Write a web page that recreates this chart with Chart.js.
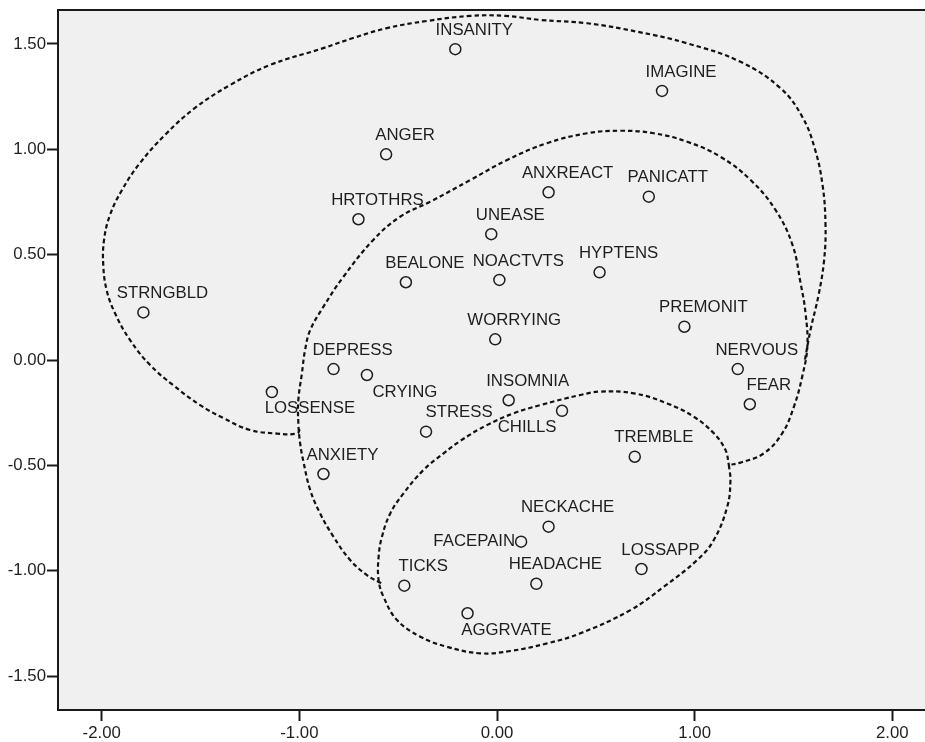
<!DOCTYPE html>
<html>
<head>
<meta charset="utf-8">
<script src="https://cdn.jsdelivr.net/npm/chart.js@4.4.1/dist/chart.umd.min.js"></script>
<style>
  html, body { margin: 0; padding: 0; background: #ffffff; overflow: hidden; }
  canvas { display: block; }
</style>
</head>
<body>
<canvas id="chart" width="943" height="742"></canvas>
<script>
// Symptom configuration: dimension 1 (x) and dimension 2 (y)
const symptoms = ['INSANITY','IMAGINE','ANGER','ANXREACT','PANICATT','HRTOTHRS','UNEASE','HYPTENS',
  'BEALONE','NOACTVTS','STRNGBLD','PREMONIT','WORRYING','DEPRESS','NERVOUS','CRYING','LOSSENSE',
  'INSOMNIA','CHILLS','STRESS','FEAR','TREMBLE','ANXIETY','NECKACHE','FACEPAIN','LOSSAPP',
  'HEADACHE','TICKS','AGGRVATE'];
const dim1 = [-0.211, 0.835, -0.561, 0.261, 0.768, -0.701, -0.029, 0.519,
  -0.461, 0.012, -1.789, 0.948, -0.009, -0.827, 1.218, -0.658, -1.139,
  0.059, 0.329, -0.359, 1.279, 0.697, -0.878, 0.261, 0.122, 0.731,
  0.199, -0.469, -0.149];
const dim2 = [1.475, 1.277, 0.976, 0.796, 0.775, 0.668, 0.597, 0.416,
  0.369, 0.380, 0.226, 0.158, 0.098, -0.043, -0.043, -0.071, -0.152,
  -0.191, -0.241, -0.340, -0.210, -0.459, -0.541, -0.791, -0.862, -0.992,
  -1.062, -1.071, -1.202];

// Axis ticks
const xTickValues = [-2, -1, 0, 1, 2];
const xTickLabels = ['-2.00', '-1.00', '0.00', '1.00', '2.00'];
const yTickValues = [-1.5, -1, -0.5, 0, 0.5, 1, 1.5];
const yTickLabels = ['-1.50', '-1.00', '-0.50', '0.00', '0.50', '1.00', '1.50'];

// Hand-drawn cluster outlines, in configuration units
const outerX = [-0.998, -1.011, -1.114, -1.249, -1.386, -1.502, -1.639, -1.755, -1.857, -1.933,
  -1.975, -1.992, -1.988, -1.958, -1.897, -1.806, -1.680, -1.528, -1.350, -1.148,
  -0.879, -0.728, -0.557, -0.354, -0.135, 0.042, 0.219, 0.456, 0.709, 0.962,
  1.232, 1.434, 1.544, 1.607, 1.647, 1.662, 1.655, 1.627, 1.586, 1.556];
const outerY = [-0.328, -0.349, -0.349, -0.332, -0.275, -0.214, -0.119, -0.024, 0.095, 0.223,
  0.332, 0.451, 0.570, 0.688, 0.807, 0.935, 1.068, 1.196, 1.305, 1.400,
  1.480, 1.528, 1.575, 1.609, 1.633, 1.633, 1.614, 1.598, 1.558, 1.503,
  1.415, 1.290, 1.155, 1.006, 0.831, 0.641, 0.475, 0.309, 0.142, -0.009];

const middleX = [-0.586, -0.658, -0.743, -0.827, -0.895, -0.945, -0.979, -0.996, -1.005, -1.005,
  -0.987, -0.971, -0.945, -0.878, -0.777, -0.626, -0.490, -0.338, -0.135, 0.051,
  0.253, 0.456, 0.624, 0.793, 0.962, 1.131, 1.283, 1.409, 1.495, 1.536,
  1.561, 1.570, 1.544, 1.502, 1.443, 1.350, 1.232, 1.173];
const middleY = [-1.059, -1.021, -0.949, -0.839, -0.728, -0.617, -0.484, -0.395, -0.300, -0.190,
  -0.063, 0.047, 0.142, 0.253, 0.395, 0.570, 0.680, 0.751, 0.854, 0.949,
  1.029, 1.076, 1.088, 1.076, 1.036, 0.964, 0.854, 0.712, 0.546, 0.364,
  0.222, 0.063, -0.079, -0.222, -0.348, -0.443, -0.487, -0.498];

const lowerX = [1.173, 1.181, 1.165, 1.097, 1.013, 0.844, 0.675, 0.422, 0.253, 0.067,
  -0.085, -0.253, -0.388, -0.506, -0.574, -0.599, -0.599, -0.582, -0.540, -0.473,
  -0.372, -0.270, -0.186, -0.051, 0.084, 0.219, 0.422, 0.523, 0.692, 0.861,
  0.995, 1.097, 1.156, 1.173];
const lowerY = [-0.498, -0.574, -0.696, -0.854, -0.949, -1.076, -1.187, -1.297, -1.345, -1.381,
  -1.392, -1.361, -1.313, -1.234, -1.124, -1.044, -0.934, -0.839, -0.728, -0.633,
  -0.522, -0.443, -0.384, -0.309, -0.253, -0.214, -0.166, -0.150, -0.158, -0.206,
  -0.269, -0.348, -0.427, -0.498];

// Label placement (pixel offset of the label centre from its marker)
const defaultPlacement = { dx: 19, dy: -19, align: 'center' };
const placement = {
  LOSSENSE: { dx: 38, dy: 16, align: 'center' },
  CRYING:   { dx: 38, dy: 17, align: 'center' },
  STRESS:   { dx: 33, dy: -19, align: 'center' },
  CHILLS:   { dx: -35, dy: 17, align: 'center' },
  AGGRVATE: { dx: 39, dy: 17, align: 'center' },
  FACEPAIN: { dx: -6, dy: 0, align: 'right' }
};

const FONT = '"Liberation Sans", Arial, Helvetica, sans-serif';
const INK = '#1e1e1e';

const zip = (xs, ys) => xs.map((x, i) => ({ x, y: ys[i] }));
const outline = (xs, ys) => ({
  data: zip(xs, ys),
  showLine: true,
  borderColor: '#111111',
  borderWidth: 2.2,
  borderDash: [4.5, 3],
  tension: 0.4,
  pointRadius: 0,
  pointHoverRadius: 0,
  fill: false,
  order: 2
});

const plotFrame = {
  id: 'plotFrame',
  beforeDraw(chart) {
    const { ctx, chartArea: a } = chart;
    ctx.save();
    ctx.fillStyle = '#f0f0f0';
    ctx.fillRect(a.left, a.top, a.right - a.left, a.bottom - a.top);
    ctx.restore();
  },
  afterDraw(chart) {
    const { ctx, chartArea: a } = chart;
    ctx.save();
    ctx.strokeStyle = '#1a1a1a';
    ctx.lineWidth = 2;
    ctx.beginPath();
    ctx.moveTo(a.left - 1, a.top);
    ctx.lineTo(a.right + 2, a.top);
    ctx.stroke();
    ctx.restore();
  }
};

const pointLabels = {
  id: 'pointLabels',
  afterDatasetsDraw(chart) {
    const { ctx } = chart;
    const meta = chart.getDatasetMeta(3);
    ctx.save();
    ctx.font = '16.8px ' + FONT;
    ctx.fillStyle = INK;
    ctx.textBaseline = 'middle';
    meta.data.forEach((el, i) => {
      const name = symptoms[i];
      const p = placement[name] || defaultPlacement;
      ctx.textAlign = p.align;
      ctx.fillText(name, el.x + p.dx, el.y + p.dy);
    });
    ctx.restore();
  }
};

new Chart(document.getElementById('chart'), {
  type: 'scatter',
  data: {
    datasets: [
      outline(outerX, outerY),
      outline(middleX, middleY),
      outline(lowerX, lowerY),
      {
        data: zip(dim1, dim2),
        pointStyle: 'circle',
        pointRadius: 5.5,
        pointHoverRadius: 5.5,
        borderWidth: 1.5,
        borderColor: '#1e1e1e',
        backgroundColor: 'rgba(0,0,0,0)',
        order: 1
      }
    ]
  },
  options: {
    responsive: false,
    animation: false,
    events: [],
    layout: { padding: { top: 10, right: 0, bottom: 0, left: 0 } },
    plugins: {
      legend: { display: false },
      tooltip: { enabled: false },
      title: { display: false }
    },
    scales: {
      x: {
        type: 'linear',
        min: -2.221,
        max: 2.221,
        afterBuildTicks: s => { s.ticks = xTickValues.map(v => ({ value: v })); },
        afterFit: s => { s.height = 32; s.paddingLeft = 0; s.paddingRight = 0; },
        grid: { drawOnChartArea: false, drawTicks: true, tickLength: 11, tickWidth: 2, tickColor: '#1a1a1a' },
        border: { display: true, color: '#1a1a1a', width: 2 },
        ticks: {
          padding: 2,
          maxRotation: 0,
          color: INK,
          font: { family: FONT, size: 16.8 },
          callback: (v) => xTickLabels[xTickValues.indexOf(v)]
        }
      },
      y: {
        type: 'linear',
        min: -1.661,
        max: 1.661,
        afterBuildTicks: s => { s.ticks = yTickValues.map(v => ({ value: v })); },
        afterFit: s => { s.width = 58; s.paddingTop = 0; s.paddingBottom = 0; },
        grid: { drawOnChartArea: false, drawTicks: true, tickLength: 11, tickWidth: 2, tickColor: '#1a1a1a' },
        border: { display: true, color: '#1a1a1a', width: 2 },
        ticks: {
          padding: 1,
          color: INK,
          font: { family: FONT, size: 16.8 },
          callback: (v) => yTickLabels[yTickValues.indexOf(v)]
        }
      }
    }
  },
  plugins: [plotFrame, pointLabels]
});
</script>
</body>
</html>
